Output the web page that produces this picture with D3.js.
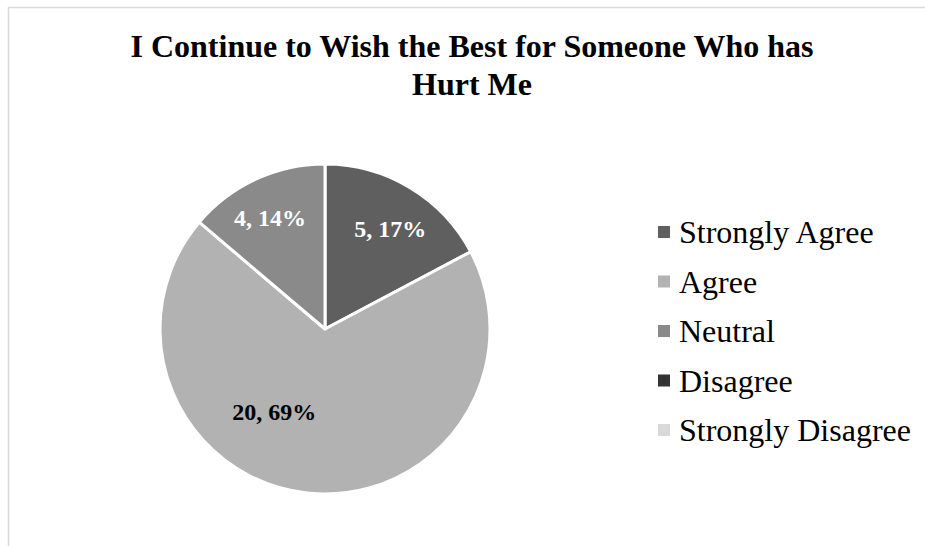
<!DOCTYPE html>
<html>
<head>
<meta charset="utf-8">
<script src="https://cdn.jsdelivr.net/npm/d3@7"></script>
<style>
  html, body { margin: 0; padding: 0; background: #fff; }
  svg text { font-family: "Liberation Serif", "Times New Roman", serif; }
</style>
</head>
<body>
<div id="chart"></div>
<script>
// Survey responses
const categories = ['Strongly Agree', 'Agree', 'Neutral', 'Disagree', 'Strongly Disagree'];
const counts = [5, 20, 4, 0, 0];
const titleLines = ['I Continue to Wish the Best for Someone Who has', 'Hurt Me'];

const W = 925, H = 546;
const svg = d3.select('#chart').append('svg')
    .attr('width', W).attr('height', H);

// chart frame (extends past the picture on right and bottom)
svg.append('rect')
    .attr('x', 8.5).attr('y', 7.5)
    .attr('width', W + 20).attr('height', H + 20)
    .attr('fill', 'none')
    .attr('stroke', '#d9d9d9')
    .attr('stroke-width', 1.5);

// grey palette, one shade per category
const color = d3.scaleOrdinal()
    .domain(categories)
    .range(['#5f5f5f', '#b2b2b2', '#8a8a8a', '#333333', '#d9d9d9']);

// title
svg.append('text')
    .attr('x', 472).attr('y', 57)
    .attr('text-anchor', 'middle')
    .style('font-size', '32px')
    .style('font-weight', 'bold')
    .selectAll('tspan')
    .data(titleLines)
    .join('tspan')
    .attr('x', 472)
    .attr('dy', (d, i) => i === 0 ? 0 : 38)
    .text(d => d);

// pie
const cx = 325, cy = 329, radius = 165;
const total = d3.sum(counts);
const data = categories.map((c, i) => ({ cat: c, value: counts[i] }));

const pie = d3.pie().sort(null).value(d => d.value);
const arcs = pie(data);
const arc = d3.arc().innerRadius(0).outerRadius(radius);

const g = svg.append('g').attr('transform', `translate(${cx},${cy})`);

g.selectAll('path.slice')
    .data(arcs.filter(d => d.data.value > 0))
    .join('path')
    .attr('class', 'slice')
    .attr('d', arc)
    .attr('fill', d => color(d.data.cat))
    .attr('stroke', '#fff')
    .attr('stroke-width', 3)
    .attr('stroke-linejoin', 'round');

// data labels ("value, pct") — Excel best-fit placement approximated
const labelArc = d3.arc().innerRadius(radius * 0.72).outerRadius(radius * 0.72);
const labelNudge = {
    'Strongly Agree': [4, 1],
    'Agree': [-38, -36],
    'Neutral': [-5, -4]
};

g.selectAll('text.lbl')
    .data(arcs.filter(d => d.data.value > 0))
    .join('text')
    .attr('class', 'lbl')
    .attr('transform', d => {
        const [x, y] = labelArc.centroid(d);
        const n = labelNudge[d.data.cat] || [0, 0];
        return `translate(${x + n[0]},${y + n[1]})`;
    })
    .attr('text-anchor', 'middle')
    .attr('dy', '0.35em')
    .style('font-size', '24px')
    .style('font-weight', 'bold')
    .attr('fill', d => d.data.cat === 'Agree' ? '#000' : '#fff')
    .text(d => `${d.data.value}, ${Math.round(d.data.value / total * 100)}%`);

// legend
const legendY = d3.scalePoint()
    .domain(categories)
    .range([232, 430]);

const leg = svg.append('g');
const item = leg.selectAll('g')
    .data(categories)
    .join('g')
    .attr('transform', d => `translate(658,${legendY(d)})`);

item.append('rect')
    .attr('x', 0).attr('y', -6)
    .attr('width', 12).attr('height', 12)
    .attr('fill', d => color(d));

item.append('text')
    .attr('x', 21)
    .attr('dy', '0.35em')
    .style('font-size', '32px')
    .attr('fill', '#000')
    .text(d => d);
</script>
</body>
</html>
